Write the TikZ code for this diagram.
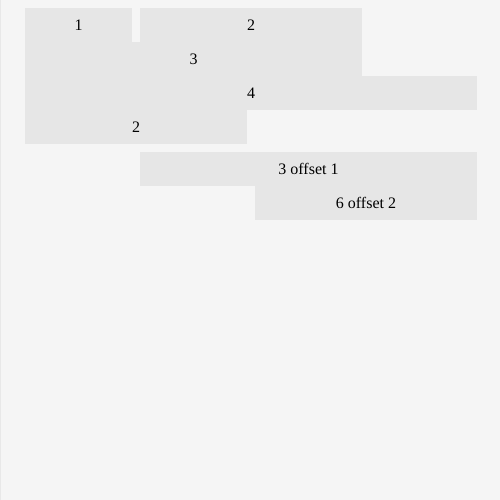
\documentclass[tikz,border=0pt]{standalone}
\usepackage{fontspec}
\setmainfont{Liberation Serif}
\definecolor{PageGray}{HTML}{F5F5F5}
\definecolor{RuleGray}{HTML}{E8E8E8}
\definecolor{CellGray}{HTML}{E6E6E6}

\begin{document}
\begin{tikzpicture}[x=1pt,y=-1pt]
	\tikzset{
	  CellStyle/.style = { fill = CellGray, inner sep = 0pt, outer sep = 0pt,
	                       anchor = north west, minimum height = 34pt },
	  LabelStyle/.style = { anchor = center, yshift = -17pt, inner sep = 0pt,
	                        font = \fontsize{16}{19}\selectfont } }
	\useasboundingbox (0,0) rectangle (500,500);
	\fill[PageGray] (0,0) rectangle (500,500);
	\draw[RuleGray, line width = 1pt] (0.5,0) -- (0.5,500);
	% first block
	\node[CellStyle, minimum width = 107pt,
	      label = {[LabelStyle]north:1}] (one) at (25,8) {};
	\node[CellStyle, minimum width = 222pt, minimum height = 68pt,
	      label = {[LabelStyle]north:2}] (two) at (140,8) {};
	\node[CellStyle, minimum width = 337pt,
	      label = {[LabelStyle]north:3}] (three) at (25,42) {};
	\node[CellStyle, minimum width = 452pt,
	      label = {[LabelStyle]north:4}] (four) at (25,76) {};
	\node[CellStyle, minimum width = 222pt,
	      label = {[LabelStyle]north:2}] (twoB) at (25,110) {};
	% offset block
	\node[CellStyle, minimum width = 337pt,
	      label = {[LabelStyle]north:3 offset 1}] (threeOff) at (140,152) {};
	\node[CellStyle, minimum width = 222pt,
	      label = {[LabelStyle]north:6 offset 2}] (sixOff) at (255,186) {};
\end{tikzpicture}
\end{document}
